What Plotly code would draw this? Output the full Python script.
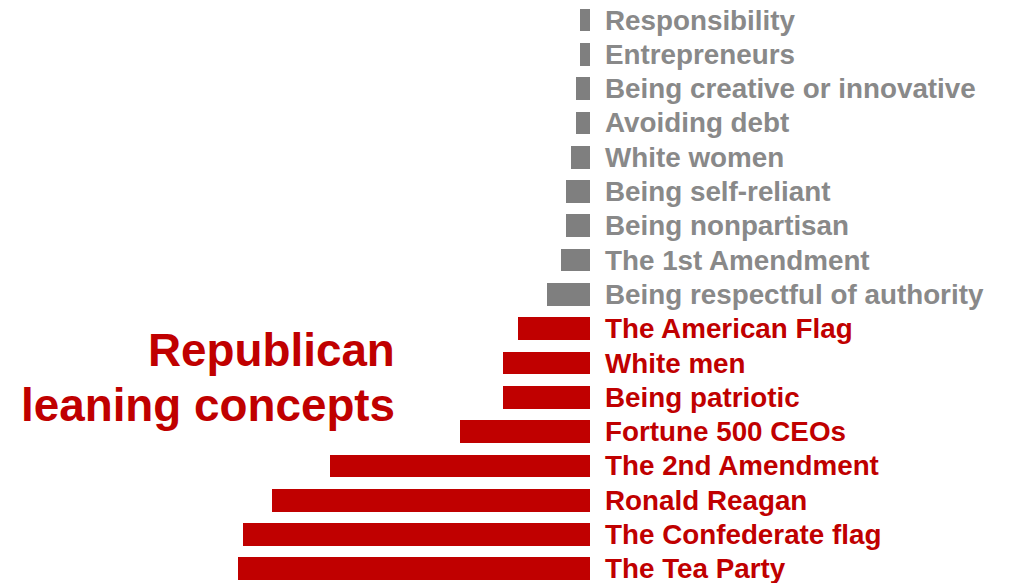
import plotly.graph_objects as go

categories = ["Responsibility", "Entrepreneurs", "Being creative or innovative", "Avoiding debt",
              "White women", "Being self-reliant", "Being nonpartisan", "The 1st Amendment",
              "Being respectful of authority", "The American Flag", "White men", "Being patriotic",
              "Fortune 500 CEOs", "The 2nd Amendment", "Ronald Reagan", "The Confederate flag",
              "The Tea Party"]
values = [2, 2, 3, 3, 4, 5, 5, 6, 9, 15, 18, 18, 27, 54, 66, 72, 73]
groups = ["other"] * 9 + ["rep"] * 8

RED = "#C00000"
GRAY = "#7F7F7F"
GRAY_TEXT = "#898989"
colors = [RED if g == "rep" else GRAY for g in groups]
text_colors = [RED if g == "rep" else GRAY_TEXT for g in groups]

W, H = 1015, 583
zero_px = 590
px_per_unit = 4.82
row0 = 20.0
row_step = 34.3

fig = go.Figure()
fig.add_trace(go.Bar(
    x=[-v for v in values], y=list(range(len(categories))), orientation="h",
    marker=dict(color=colors, line=dict(width=0)), width=0.66,
    hoverinfo="skip", showlegend=False,
))

for i, (c, col) in enumerate(zip(categories, text_colors)):
    fig.add_annotation(x=0, y=i, text="<b>" + c + "</b>", showarrow=False, xanchor="left",
                       yanchor="middle", xshift=13,
                       font=dict(family="Arial, Liberation Sans", size=27.8, color=col))

fig.add_annotation(xref="paper", yref="paper", x=397 / W, y=1 - 350 / H, text="<b>Republican</b>",
                   showarrow=False, xanchor="right", yanchor="middle",
                   font=dict(family="Arial, Liberation Sans", size=45.8, color=RED))
fig.add_annotation(xref="paper", yref="paper", x=397 / W, y=1 - 405 / H, text="<b>leaning concepts</b>",
                   showarrow=False, xanchor="right", yanchor="middle",
                   font=dict(family="Arial, Liberation Sans", size=45.8, color=RED))

xmin = -zero_px / px_per_unit
xmax = (W - zero_px) / px_per_unit
ytop = -row0 / row_step
ybot = (H - row0) / row_step

fig.update_layout(
    width=W, height=H, margin=dict(l=0, r=0, t=0, b=0),
    paper_bgcolor="white", plot_bgcolor="white",
    xaxis=dict(range=[xmin, xmax], visible=False, fixedrange=True),
    yaxis=dict(range=[ybot, ytop], visible=False, fixedrange=True),
    bargap=0,
)
fig.write_html("out.html")
